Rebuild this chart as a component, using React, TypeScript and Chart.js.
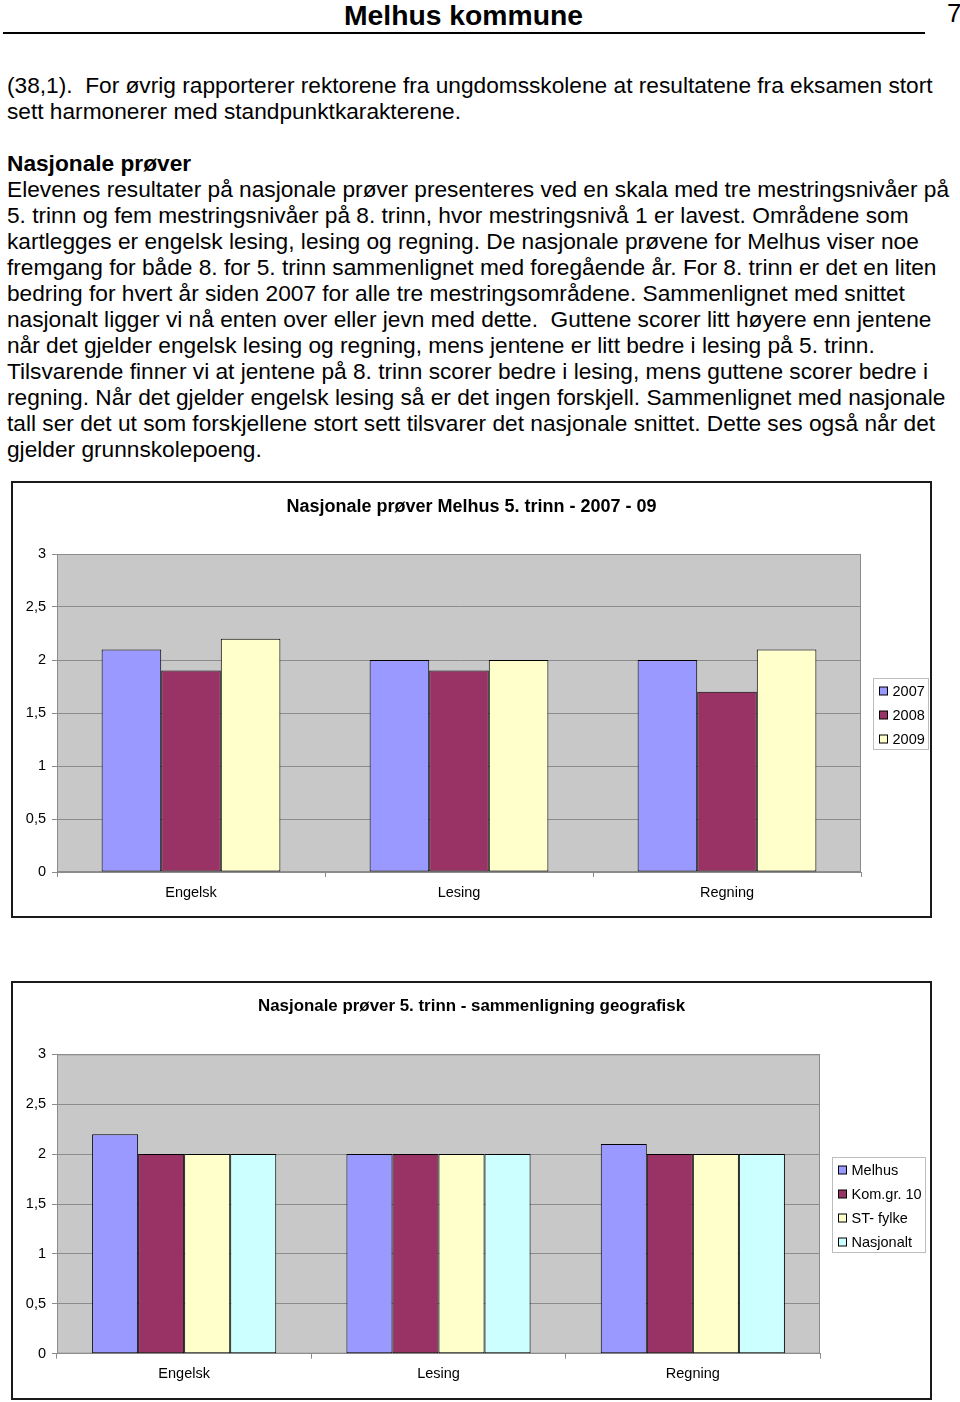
import React, { useEffect, useRef } from "react";
import { Chart, registerables } from "chart.js";

Chart.register(...registerables);

const FONT = '"Liberation Sans", Arial, Helvetica, sans-serif';

// ---------- data ----------
const categories = ["Engelsk", "Lesing", "Regning"];
const yearLabels = ["2007", "2008", "2009"];
const values2007 = [2.1, 2.0, 2.0];
const values2008 = [1.9, 1.9, 1.7];
const values2009 = [2.2, 2.0, 2.1];

const geoLabels = ["Melhus", "Kom.gr. 10", "ST- fylke", "Nasjonalt"];
const melhusValues = [2.2, 2.0, 2.1];
const komgrValues = [2.0, 2.0, 2.0];
const stFylkeValues = [2.0, 2.0, 2.0];
const nasjonaltValues = [2.0, 2.0, 2.0];

const yTickLabels = ["0", "0,5", "1", "1,5", "2", "2,5", "3"];

const colors = ["#9999FF", "#993366", "#FFFFCC", "#CCFFFF"];

const title1 = "Nasjonale prøver Melhus 5. trinn - 2007 - 09";
const title2 = "Nasjonale prøver 5. trinn - sammenligning geografisk";

const textLines: { text: string; y: number; bold?: boolean }[] = [
  { text: "(38,1).  For øvrig rapporterer rektorene fra ungdomsskolene at resultatene fra eksamen stort", y: 86 },
  { text: "sett harmonerer med standpunktkarakterene.", y: 112 },
  { text: "Nasjonale prøver", y: 164, bold: true },
  { text: "Elevenes resultater på nasjonale prøver presenteres ved en skala med tre mestringsnivåer på", y: 190 },
  { text: "5. trinn og fem mestringsnivåer på 8. trinn, hvor mestringsnivå 1 er lavest. Områdene som", y: 216 },
  { text: "kartlegges er engelsk lesing, lesing og regning. De nasjonale prøvene for Melhus viser noe", y: 242 },
  { text: "fremgang for både 8. for 5. trinn sammenlignet med foregående år. For 8. trinn er det en liten", y: 268 },
  { text: "bedring for hvert år siden 2007 for alle tre mestringsområdene. Sammenlignet med snittet", y: 294 },
  { text: "nasjonalt ligger vi nå enten over eller jevn med dette.  Guttene scorer litt høyere enn jentene", y: 320 },
  { text: "når det gjelder engelsk lesing og regning, mens jentene er litt bedre i lesing på 5. trinn.", y: 346 },
  { text: "Tilsvarende finner vi at jentene på 8. trinn scorer bedre i lesing, mens guttene scorer bedre i", y: 372 },
  { text: "regning. Når det gjelder engelsk lesing så er det ingen forskjell. Sammenlignet med nasjonale", y: 398 },
  { text: "tall ser det ut som forskjellene stort sett tilsvarer det nasjonale snittet. Dette ses også når det", y: 424 },
  { text: "gjelder grunnskolepoeng.", y: 450 },
];

// ---------- plugins ----------
const plotBg = {
  id: "plotBg",
  beforeDraw(chart: any) {
    const { ctx, chartArea } = chart;
    const { left, top, right, bottom } = chartArea;
    ctx.save();
    ctx.fillStyle = "#C8C8C8";
    ctx.fillRect(left, top, right - left, bottom - top);
    ctx.strokeStyle = "#8C8C8C";
    ctx.lineWidth = 1;
    ctx.strokeRect(left + 0.5, top + 0.5, right - left - 1, bottom - top - 1);
    ctx.restore();
  },
};

const centerTitle = {
  id: "centerTitle",
  afterDraw(chart: any, _args: any, opts: any) {
    const { ctx } = chart;
    ctx.save();
    ctx.font = `bold ${opts.size}px ${FONT}`;
    ctx.fillStyle = "#000";
    ctx.textAlign = "center";
    ctx.textBaseline = "middle";
    ctx.fillText(opts.text, chart.width / 2, opts.y);
    ctx.restore();
  },
};

const boxLegend = {
  id: "boxLegend",
  afterDraw(chart: any) {
    const { ctx, chartArea } = chart;
    const ds = chart.data.datasets;
    const n = ds.length;
    ctx.save();
    ctx.font = `14.5px ${FONT}`;
    let maxW = 0;
    ds.forEach((d: any) => {
      maxW = Math.max(maxW, ctx.measureText(d.label).width);
    });
    const w = Math.round(6 + 8 + 5 + maxW + 4);
    const h = 24 * n - 1;
    const x = Math.round(chartArea.right + 12) + 0.5;
    const y = Math.round((chartArea.top + chartArea.bottom) / 2 - h / 2) + 0.5;
    ctx.strokeStyle = "#BDBDBD";
    ctx.lineWidth = 1;
    ctx.strokeRect(x, y, w, h);
    ds.forEach((d: any, i: number) => {
      const cy = Math.round(y + 12 + 24 * i);
      ctx.fillStyle = d.backgroundColor;
      ctx.fillRect(x + 6, cy - 4, 8, 8);
      ctx.strokeStyle = "#000";
      ctx.strokeRect(x + 6, cy - 4, 8, 8);
      ctx.fillStyle = "#000";
      ctx.textBaseline = "middle";
      ctx.textAlign = "left";
      ctx.fillText(d.label, x + 19, cy + 1);
    });
    ctx.restore();
  },
};

function makeOptions(o: {
  title: string;
  titleSize: number;
  titleY: number;
  padTop: number;
  padRight: number;
  padBottom: number;
  xLabelPad: number;
  catPct: number;
}) {
  return {
    responsive: false,
    animation: false,
    layout: { padding: { left: 0, right: o.padRight, top: o.padTop, bottom: o.padBottom } },
    datasets: { bar: { categoryPercentage: o.catPct, barPercentage: 1 } },
    plugins: {
      legend: { display: false },
      tooltip: { enabled: false },
      title: { display: false },
      centerTitle: { text: o.title, size: o.titleSize, y: o.titleY },
    },
    scales: {
      x: {
        afterFit: (s: any) => {
          s.height = 30;
        },
        grid: {
          drawOnChartArea: false,
          drawTicks: true,
          tickLength: 5,
          color: "#8C8C8C",
          offset: true,
        },
        border: { color: "#8C8C8C" },
        ticks: {
          color: "#000",
          padding: o.xLabelPad,
          font: { family: FONT, size: 14.5, lineHeight: 1.2 },
          maxRotation: 0,
        },
      },
      y: {
        min: 0,
        max: 3,
        afterFit: (s: any) => {
          s.width = 44;
        },
        grid: { color: "#8C8C8C", tickLength: 5, drawTicks: true },
        border: { color: "#8C8C8C" },
        ticks: {
          stepSize: 0.5,
          color: "#000",
          padding: 6,
          font: { family: FONT, size: 14.5, lineHeight: 1.2 },
          callback: (_v: any, i: number) => yTickLabels[i],
        },
      },
    },
  };
}

function barDataset(label: string, data: number[], color: string) {
  return {
    label,
    data,
    backgroundColor: color,
    borderColor: "#000",
    borderWidth: 1,
    borderSkipped: false,
  };
}

function ChartBox(props: {
  left: number;
  top: number;
  width: number;
  height: number;
  config: any;
}) {
  const ref = useRef<HTMLCanvasElement | null>(null);
  useEffect(() => {
    if (!ref.current) return;
    const chart = new Chart(ref.current, props.config);
    return () => chart.destroy();
  }, []);
  const cw = props.width - 4;
  const chh = props.height - 4;
  return (
    <div
      style={{
        position: "absolute",
        left: props.left,
        top: props.top,
        width: props.width,
        height: props.height,
        border: "2px solid #1a1a1a",
        boxSizing: "border-box",
        background: "#fff",
      }}
    >
      <canvas ref={ref} width={cw} height={chh} style={{ display: "block", width: cw, height: chh }} />
    </div>
  );
}

export default function App() {
  const config1 = {
    type: "bar",
    data: {
      labels: categories,
      datasets: [
        barDataset(yearLabels[0], values2007, colors[0]),
        barDataset(yearLabels[1], values2008, colors[1]),
        barDataset(yearLabels[2], values2009, colors[2]),
      ],
    },
    options: makeOptions({
      title: title1,
      titleSize: 18,
      titleY: 24,
      padTop: 71,
      padRight: 69,
      padBottom: 14,
      xLabelPad: 7,
      catPct: 0.667,
    }),
    plugins: [plotBg, boxLegend, centerTitle],
  };
  const config2 = {
    type: "bar",
    data: {
      labels: categories,
      datasets: [
        barDataset(geoLabels[0], melhusValues, colors[0]),
        barDataset(geoLabels[1], komgrValues, colors[1]),
        barDataset(geoLabels[2], stFylkeValues, colors[2]),
        barDataset(geoLabels[3], nasjonaltValues, colors[3]),
      ],
    },
    options: makeOptions({
      title: title2,
      titleSize: 16.9,
      titleY: 23,
      padTop: 71.3,
      padRight: 110,
      padBottom: 14.3,
      xLabelPad: 6.6,
      catPct: 0.724,
    }),
    plugins: [plotBg, boxLegend, centerTitle],
  };

  return (
    <div
      style={{
        position: "absolute",
        left: 0,
        top: 0,
        width: 960,
        height: 1402,
        background: "#fff",
        color: "#000",
        fontFamily: FONT,
        overflow: "hidden",
      }}
    >
      <div
        style={{
          position: "absolute",
          left: 0,
          width: 927,
          top: -2,
          textAlign: "center",
          fontWeight: "bold",
          fontSize: 28.3,
          lineHeight: "34px",
          whiteSpace: "nowrap",
        }}
      >
        Melhus kommune
      </div>
      <div style={{ position: "absolute", left: 947, top: -2, fontSize: 26, lineHeight: "30px" }}>7</div>
      <div style={{ position: "absolute", left: 3, top: 32, width: 922, height: 1.5, background: "#000" }} />
      {textLines.map((l, i) => (
        <div
          key={i}
          style={{
            position: "absolute",
            left: 7,
            top: l.y - 14,
            fontSize: 22.7,
            lineHeight: "26px",
            fontWeight: l.bold ? "bold" : "normal",
            whiteSpace: "pre",
          }}
        >
          {l.text}
        </div>
      ))}
      <ChartBox left={11} top={481} width={921} height={437} config={config1} />
      <ChartBox left={11} top={981} width={921} height={419} config={config2} />
    </div>
  );
}
